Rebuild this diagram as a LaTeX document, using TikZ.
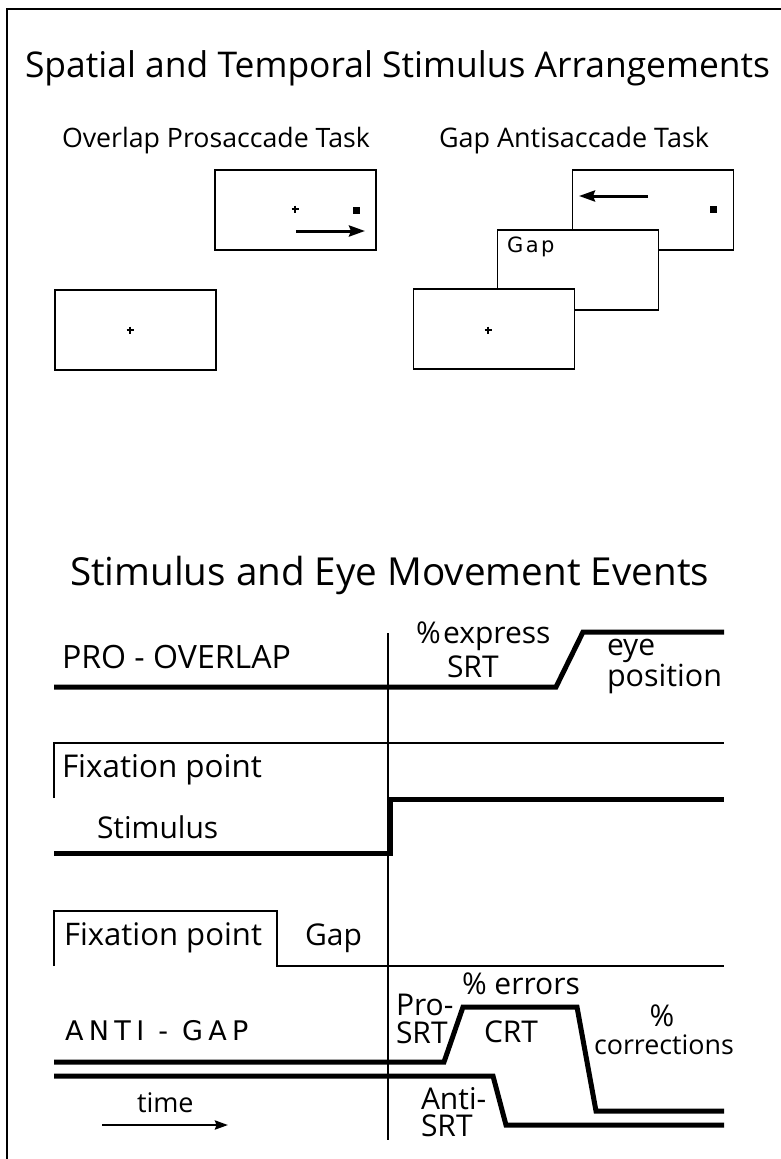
\documentclass[tikz,border=0pt]{standalone}
\usepackage{fontspec}
\setmainfont{Open Sans}
\newfontfamily\spacedfont[LetterSpace=20]{DejaVu Sans}
\newfontfamily\gapfont[LetterSpace=12]{DejaVu Sans}
\usetikzlibrary{arrows.meta}
\newcommand{\fsz}[1]{\fontsize{#1}{#1}\selectfont}
\newcommand{\fitw}[2]{\resizebox{#1pt}{!}{#2}}
\begin{document}
\begin{tikzpicture}[x=1pt,y=-1pt,
  lbl/.style={anchor=base west, inner sep=0pt, outer sep=0pt, font=\fsz{30}},
  scr/.style={draw, line width=1.5pt, minimum width=161pt, minimum height=80pt, inner sep=0pt, fill=white},
  cross/.style={line width=2pt},
  motion/.style={line width=3pt, -{Stealth[length=16pt,width=11pt,inset=2pt]}},
  trace/.style={line width=5pt, line join=miter},
  thinline/.style={line width=1.3pt},
  boxline/.style={line width=1.5pt}]
\useasboundingbox (0,0) rectangle (781,1159);
% frame
\draw[line width=2.5pt] (781,9) -- (7,9) -- (7,1160);

% titles
\node[lbl] (t1) at (25,77) {\fitw{745}{\fsz{35}Spatial and Temporal Stimulus Arrangements}};
\node[lbl] (s1) at (62,147) {\fitw{308}{\fsz{26}Overlap Prosaccade Task}};
\node[lbl] (s2) at (439,147) {\fitw{270}{\fsz{26}Gap Antisaccade Task}};

% prosaccade screens
\node[scr] (pa) at (295.5,210) {};
\node[scr] (pb) at (135.5,330) {};
\draw[cross] (295,209) +(-3.5,0) -- +(3.5,0) +(0,-3.5) -- +(0,3.5);
\fill (352.5,206.5) rectangle +(7,7);
\coordinate (pas) at (296,231);
\coordinate (pae) at (365,231);
\draw[motion] (pas) -- (pae);
\draw[cross] (130,330) +(-3.5,0) -- +(3.5,0) +(0,-3.5) -- +(0,3.5);

% antisaccade screens
\node[scr] (aa) at (653,210) {};
\node[scr] (ag) at (578,270) {};
\node[scr] (ab) at (494,329) {};
\node[lbl] (gaplbl) at (507,252) {\gapfont\fsz{21}Gap};
\fill (709.5,205.5) rectangle +(7,7);
\coordinate (aas) at (648,196);
\coordinate (aae) at (579,196);
\draw[motion] (aas) -- (aae);
\draw[cross] (488,330) +(-3.5,0) -- +(3.5,0) +(0,-3.5) -- +(0,3.5);

% second part
\node[lbl] (t2) at (70,585) {\fitw{639}{\fsz{35}Stimulus and Eye Movement Events}};

\draw[thinline] (388,633) -- (388,1140);

% PRO - OVERLAP
\node[lbl] (pro) at (62,668) {\fitw{229}{PRO - OVERLAP}};
\draw[trace] (54,687) -- (556,687) -- (583,632) -- (724,632);
\node[lbl] (expr) at (416,643) {\%\hspace{0.08em}express};
\node[lbl] (srt1) at (447,677) {SRT};
\node[lbl] (eye) at (607,655) {eye};
\node[lbl] (pos) at (607,686) {\fitw{115}{position}};

% Fixation / Stimulus
\draw[boxline] (54,798) -- (54,743) -- (724,743);
\node[lbl] (fix1) at (62,777) {\fitw{200}{Fixation point}};
\draw[trace] (54,853) -- (390,853) -- (390,799) -- (724,799);
\node[lbl] (stim) at (97,838) {Stimulus};

% Fixation / Gap
\draw[boxline] (54,966) -- (54,911) -- (277,911) -- (277,966) -- (724,966);
\node[lbl] (fix2) at (64,945) {\fitw{198}{Fixation point}};
\node[lbl] (gap2) at (305,945) {Gap};

% ANTI - GAP
\node[lbl] (anti) at (65,1040) {\spacedfont\fsz{27}ANTI - GAP};
\draw[trace] (54,1062) -- (444,1062) -- (463,1007) -- (577,1007) -- (596,1111) -- (724,1111);
\draw[trace] (54,1076) -- (493,1076) -- (506,1125) -- (724,1125);
\node[lbl] (pro2) at (396,1015) {Pro-};
\node[lbl] (srt2) at (396,1043) {SRT};
\node[lbl] (err) at (462,994) {\% errors};
\node[lbl] (crt) at (484,1042) {CRT};
\node[lbl, anchor=base] (pc) at (662,1026) {\%};
\node[lbl] (corr) at (594,1054) {\fitw{140}{corrections}};
\node[lbl] (anti2) at (421,1109) {Anti-};
\node[lbl] (srt3) at (421,1136) {SRT};

% time
\node[lbl, font=\fsz{27}] (time) at (137,1112) {time};
\coordinate (ts) at (102,1125);
\coordinate (te) at (228,1125);
\draw[line width=2.5pt, -{Stealth[length=13pt,width=9pt,inset=1.5pt]}] (ts) -- (te);
\end{tikzpicture}
\end{document}
